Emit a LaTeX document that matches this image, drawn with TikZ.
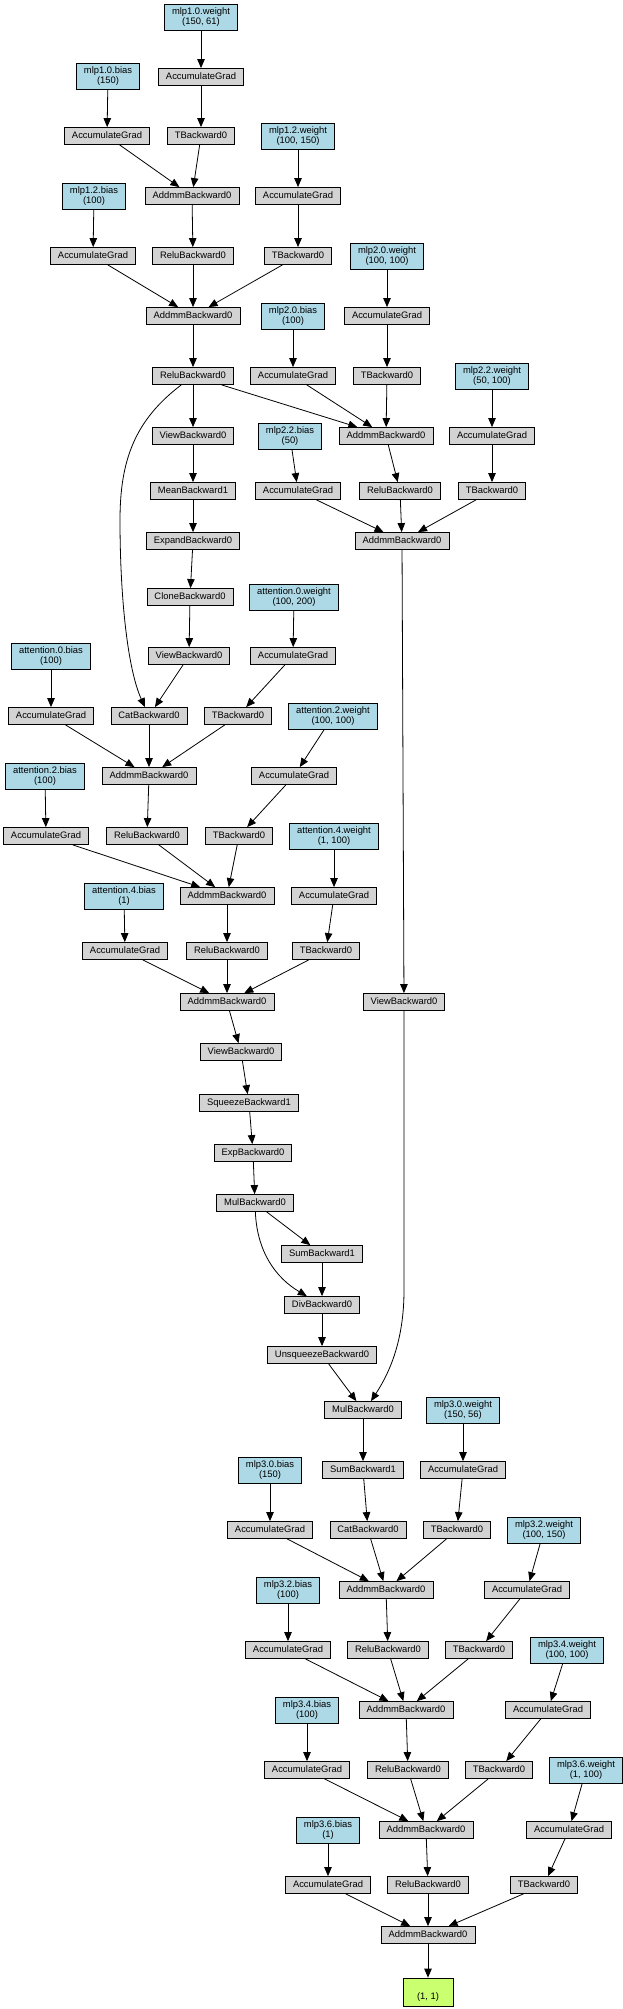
\documentclass[tikz,border=0pt]{standalone}
\usepackage{fontspec}
\setmainfont{Liberation Sans}
\usetikzlibrary{arrows.meta}
\definecolor{opgray}{HTML}{D3D3D3}
\definecolor{parblue}{HTML}{ADD8E6}
\definecolor{outgreen}{HTML}{CAFF70}
\begin{document}
\begin{tikzpicture}[x=1pt,y=-1pt,
  base/.style={draw=black, line width=0.8pt, font=\fontsize{9.4}{10}\selectfont, inner xsep=7.5pt, inner ysep=0pt},
  op/.style={base, fill=opgray, minimum height=17pt, text height=6.8pt, text depth=1.8pt},
  par/.style={base, fill=parblue, align=center, minimum height=26pt},
  outn/.style={base, fill=outgreen, align=center, minimum width=50pt, minimum height=28pt},
  edge/.style={line width=0.8pt, -{Triangle[length=9pt,width=7.5pt]}}]
\fill[white] (0,0) rectangle (622,2009);
\useasboundingbox (0,0) rectangle (622,2009);

% mlp1
\node[par] (p10w) at (201,17) {mlp1.0.weight\\(150, 61)};
\node[op] (a10w) at (201,77) {AccumulateGrad};
\node[par] (p10b) at (108,76) {mlp1.0.bias\\(150)};
\node[op] (a10b) at (107,136) {AccumulateGrad};
\node[op] (t10) at (201,136) {TBackward0};
\node[par] (p12w) at (298,136) {mlp1.2.weight\\(100, 150)};
\node[op] (m1) at (192,196) {AddmmBackward0};
\node[op] (a12w) at (298,196) {AccumulateGrad};
\node[par] (p12b) at (94,196) {mlp1.2.bias\\(100)};
\node[op] (a12b) at (93,256) {AccumulateGrad};
\node[op] (r1) at (193,256) {ReluBackward0};
\node[op] (t12) at (298,256) {TBackward0};
\node[par] (p20w) at (387,256) {mlp2.0.weight\\(100, 100)};
\node[op] (m2) at (193,316) {AddmmBackward0};
\node[par] (p20b) at (293,316) {mlp2.0.bias\\(100)};
\node[op] (a20w) at (387,316) {AccumulateGrad};
\node[op] (r2) at (193,376) {ReluBackward0};
\node[op] (a20b) at (293,376) {AccumulateGrad};
\node[op] (t20) at (387,376) {TBackward0};
\node[par] (p22w) at (492,376) {mlp2.2.weight\\(50, 100)};
\node[op] (v1) at (193,436) {ViewBackward0};
\node[par] (p22b) at (290,436) {mlp2.2.bias\\(50)};
\node[op] (m3) at (386,436) {AddmmBackward0};
\node[op] (a22w) at (492,436) {AccumulateGrad};
\node[op] (mean) at (193,491) {MeanBackward1};
\node[op] (a22b) at (298,491) {AccumulateGrad};
\node[op] (r3) at (400,491) {ReluBackward0};
\node[op] (t22) at (492,491) {TBackward0};
\node[op] (expand) at (193,541) {ExpandBackward0};
\node[op] (m4) at (402,541) {AddmmBackward0};
\node[op] (clone) at (190,597) {CloneBackward0};
% attention
\node[par] (pa0w) at (294,597) {attention.0.weight\\(100, 200)};
\node[par] (pa0b) at (51,656) {attention.0.bias\\(100)};
\node[op] (v2) at (189,656) {ViewBackward0};
\node[op] (aa0w) at (293,656) {AccumulateGrad};
\node[op] (aa0b) at (51,716) {AccumulateGrad};
\node[op] (cat1) at (149,716) {CatBackward0};
\node[op] (ta0) at (238,716) {TBackward0};
\node[par] (pa2w) at (333,716) {attention.2.weight\\(100, 100)};
\node[par] (pa2b) at (45,776) {attention.2.bias\\(100)};
\node[op] (m5) at (149,776) {AddmmBackward0};
\node[op] (aa2w) at (294,776) {AccumulateGrad};
\node[op] (aa2b) at (46,836) {AccumulateGrad};
\node[op] (r4) at (147,836) {ReluBackward0};
\node[op] (ta2) at (239,836) {TBackward0};
\node[par] (pa4w) at (334,836) {attention.4.weight\\(1, 100)};
\node[par] (pa4b) at (124,896) {attention.4.bias\\(1)};
\node[op] (m6) at (227,896) {AddmmBackward0};
\node[op] (aa4w) at (334,896) {AccumulateGrad};
\node[op] (aa4b) at (125,951) {AccumulateGrad};
\node[op] (r5) at (227,951) {ReluBackward0};
\node[op] (ta4) at (326,951) {TBackward0};
\node[op] (m7) at (227,1002) {AddmmBackward0};
\node[op] (v3) at (404,1002) {ViewBackward0};
\node[op] (v4) at (241,1052) {ViewBackward0};
\node[op] (squeeze) at (249,1103) {SqueezeBackward1};
\node[op] (exp) at (253,1153) {ExpBackward0};
\node[op] (mul1) at (255,1203) {MulBackward0};
\node[op] (sum1) at (322,1254) {SumBackward1};
\node[op] (div) at (322,1305) {DivBackward0};
\node[op] (unsq) at (322,1355) {UnsqueezeBackward0};
\node[op] (mul2) at (363,1410) {MulBackward0};
% mlp3
\node[par] (p30w) at (463,1410) {mlp3.0.weight\\(150, 56)};
\node[par] (p30b) at (270,1470) {mlp3.0.bias\\(150)};
\node[op] (sum2) at (363,1470) {SumBackward1};
\node[op] (a30w) at (463,1470) {AccumulateGrad};
\node[op] (a30b) at (270,1530) {AccumulateGrad};
\node[op] (cat2) at (368,1530) {CatBackward0};
\node[op] (t30) at (457,1530) {TBackward0};
\node[par] (p32w) at (544,1530) {mlp3.2.weight\\(100, 150)};
\node[par] (p32b) at (288,1590) {mlp3.2.bias\\(100)};
\node[op] (m8) at (386,1590) {AddmmBackward0};
\node[op] (a32w) at (527,1590) {AccumulateGrad};
\node[op] (a32b) at (288,1650) {AccumulateGrad};
\node[op] (r6) at (388,1650) {ReluBackward0};
\node[op] (t32) at (479,1650) {TBackward0};
\node[par] (p34w) at (567,1650) {mlp3.4.weight\\(100, 100)};
\node[par] (p34b) at (307,1710) {mlp3.4.bias\\(100)};
\node[op] (m9) at (406,1710) {AddmmBackward0};
\node[op] (a34w) at (548,1710) {AccumulateGrad};
\node[op] (a34b) at (307,1770) {AccumulateGrad};
\node[op] (r7) at (408,1770) {ReluBackward0};
\node[op] (t34) at (499,1770) {TBackward0};
\node[par] (p36w) at (586,1770) {mlp3.6.weight\\(1, 100)};
\node[par] (p36b) at (328,1830) {mlp3.6.bias\\(1)};
\node[op] (m10) at (426,1830) {AddmmBackward0};
\node[op] (a36w) at (569,1830) {AccumulateGrad};
\node[op] (a36b) at (328,1885) {AccumulateGrad};
\node[op] (r8) at (428,1885) {ReluBackward0};
\node[op] (t36) at (544,1885) {TBackward0};
\node[op] (m11) at (428,1935) {AddmmBackward0};
\node[outn] (out) at (428,1992) {\strut\\(1, 1)};

% edges
\draw[edge] (p10w) -- (a10w);
\draw[edge] (a10w) -- (t10);
\draw[edge] (t10) -- (m1);
\draw[edge] (p10b) -- (a10b);
\draw[edge] (a10b) -- (m1);
\draw[edge] (m1) -- (r1);
\draw[edge] (r1) -- (m2);
\draw[edge] (p12w) -- (a12w);
\draw[edge] (a12w) -- (t12);
\draw[edge] (t12) -- (m2);
\draw[edge] (p12b) -- (a12b);
\draw[edge] (a12b) -- (m2);
\draw[edge] (m2) -- (r2);
\draw[edge] (r2) -- (v1);
\draw[edge] (r2) -- (m3);
\draw[edge] (r2) .. controls (135,420) and (120,460) .. (120,520) .. controls (120,600) and (128,670) .. (cat1);
\draw[edge] (p20w) -- (a20w);
\draw[edge] (a20w) -- (t20);
\draw[edge] (t20) -- (m3);
\draw[edge] (p20b) -- (a20b);
\draw[edge] (a20b) -- (m3);
\draw[edge] (m3) -- (r3);
\draw[edge] (r3) -- (m4);
\draw[edge] (p22w) -- (a22w);
\draw[edge] (a22w) -- (t22);
\draw[edge] (t22) -- (m4);
\draw[edge] (p22b) -- (a22b);
\draw[edge] (a22b) -- (m4);
\draw[edge] (m4) -- (v3);
\draw[edge] (v3) -- (404,1290) .. controls (404,1340) and (390,1372) .. ([xshift=8pt]mul2.north);
\draw[edge] (v1) -- (mean);
\draw[edge] (mean) -- (expand);
\draw[edge] (expand) -- (clone);
\draw[edge] (clone) -- (v2);
\draw[edge] (v2) -- (cat1);
\draw[edge] (pa0w) -- (aa0w);
\draw[edge] (aa0w) -- (ta0);
\draw[edge] (ta0) -- (m5);
\draw[edge] (pa0b) -- (aa0b);
\draw[edge] (aa0b) -- (m5);
\draw[edge] (cat1) -- (m5);
\draw[edge] (m5) -- (r4);
\draw[edge] (r4) -- (m6);
\draw[edge] (pa2w) -- (aa2w);
\draw[edge] (aa2w) -- (ta2);
\draw[edge] (ta2) -- (m6);
\draw[edge] (pa2b) -- (aa2b);
\draw[edge] (aa2b) -- (m6);
\draw[edge] (m6) -- (r5);
\draw[edge] (r5) -- (m7);
\draw[edge] (pa4w) -- (aa4w);
\draw[edge] (aa4w) -- (ta4);
\draw[edge] (ta4) -- (m7);
\draw[edge] (pa4b) -- (aa4b);
\draw[edge] (aa4b) -- (m7);
\draw[edge] (m7) -- (v4);
\draw[edge] (v4) -- (squeeze);
\draw[edge] (squeeze) -- (exp);
\draw[edge] (exp) -- (mul1);
\draw[edge] (mul1) -- (sum1);
\draw[edge] (mul1) .. controls (257,1252) and (276,1278) .. (div);
\draw[edge] (sum1) -- (div);
\draw[edge] (div) -- (unsq);
\draw[edge] (unsq) -- (mul2);
\draw[edge] (mul2) -- (sum2);
\draw[edge] (sum2) -- (cat2);
\draw[edge] (cat2) -- (m8);
\draw[edge] (p30w) -- (a30w);
\draw[edge] (a30w) -- (t30);
\draw[edge] (t30) -- (m8);
\draw[edge] (p30b) -- (a30b);
\draw[edge] (a30b) -- (m8);
\draw[edge] (m8) -- (r6);
\draw[edge] (r6) -- (m9);
\draw[edge] (p32w) -- (a32w);
\draw[edge] (a32w) -- (t32);
\draw[edge] (t32) -- (m9);
\draw[edge] (p32b) -- (a32b);
\draw[edge] (a32b) -- (m9);
\draw[edge] (m9) -- (r7);
\draw[edge] (r7) -- (m10);
\draw[edge] (p34w) -- (a34w);
\draw[edge] (a34w) -- (t34);
\draw[edge] (t34) -- (m10);
\draw[edge] (p34b) -- (a34b);
\draw[edge] (a34b) -- (m10);
\draw[edge] (m10) -- (r8);
\draw[edge] (r8) -- (m11);
\draw[edge] (p36w) -- (a36w);
\draw[edge] (a36w) -- (t36);
\draw[edge] (t36) -- (m11);
\draw[edge] (p36b) -- (a36b);
\draw[edge] (a36b) -- (m11);
\draw[edge] (m11) -- (out);
\end{tikzpicture}
\end{document}
